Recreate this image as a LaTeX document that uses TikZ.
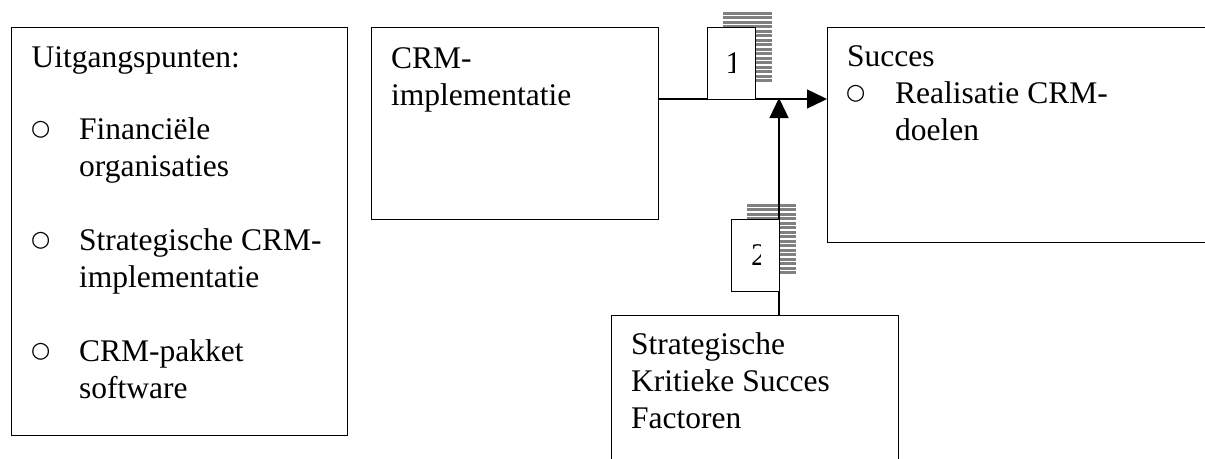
\documentclass[tikz,border=0pt]{standalone}
\usepackage{fontspec}
\setmainfont{Liberation Serif}
\newfontfamily\symfont{DejaVu Sans}
\usetikzlibrary{arrows.meta}

\tikzset{
  box/.style={draw, line width=1.4pt, rectangle, anchor=north west, inner sep=0pt},
  numbox/.style={box, fill=white, minimum width=48pt, minimum height=72pt},
  txt/.style={anchor=base west, inner sep=0pt, font=\fontsize{31.5}{37}\selectfont},
  bul/.style={anchor=base west, inner sep=0pt, yshift=4pt, font=\symfont\fontsize{22}{37}\selectfont},
  conn/.style={line width=1.4pt},
  arr/.style={conn, -{Triangle[length=20pt, width=19pt]}},
  stripe/.style={draw=black!50, line width=3pt}
}

% hatched drop shadow: 16 horizontal grey bars
\newcommand{\barshadow}[2]{%
  \foreach \i in {0,...,15}{
    \draw[stripe] (#1,{#2+1.5+4.47*\i}) -- ++(49,0);
  }%
}

\begin{document}
\begin{tikzpicture}[x=1pt, y=-1pt]
\useasboundingbox (0,0) rectangle (1205,458);
\clip (0,0) rectangle (1205,458);

% main boxes
\node[box, minimum width=336pt, minimum height=408pt] (base) at (11,27) {};
\node[box, minimum width=287pt, minimum height=192pt] (crm) at (371,27) {};
\node[box, minimum width=400pt, minimum height=215pt] (succ) at (827,27) {};
\node[box, minimum width=287pt, minimum height=170pt] (ksf) at (611,315) {};

% texts of the left box
\node[txt] (t1) at (31.5,67.5) {Uitgangspunten:};
\node[bul] (b1) at (31,139) {○};
\node[txt] (t2) at (79,139) {Financiële};
\node[txt] (t3) at (79,176) {organisaties};
\node[bul] (b2) at (31,250) {○};
\node[txt] (t4) at (79,250) {Strategische CRM-};
\node[txt] (t5) at (79,287) {implementatie};
\node[bul] (b3) at (31,361) {○};
\node[txt] (t6) at (79,361) {CRM-pakket};
\node[txt] (t7) at (79,398) {software};

% CRM box
\node[txt] (c1) at (391,68) {CRM-};
\node[txt] (c2) at (391,105) {implementatie};

% success box
\node[txt] (s1) at (847,66.5) {Succes};
\node[bul] (sb) at (846,103.5) {○};
\node[txt] (s2) at (895,103.5) {Realisatie CRM-};
\node[txt] (s3) at (895,140) {doelen};

% critical success factors box
\node[txt] (k1) at (631,354) {Strategische};
\node[txt] (k2) at (631,391) {Kritieke Succes};
\node[txt] (k3) at (631,428) {Factoren};

% shadows of the numbered boxes
\barshadow{723}{12}
\barshadow{747}{204}

% connectors
\coordinate (j) at (779,99);
\draw[arr] (crm.east |- j) -- (succ.west |- j);
\draw[arr] (ksf.north -| j) -- ([yshift=1pt]j);

% numbered boxes, their digits cut off by the right part of the frame
\node[numbox] (n1) at (707,27) {};
\node[numbox] (n2) at (731,219) {};
\begin{scope}
  \clip (n1.north west) rectangle ([xshift=27.5pt]n1.south west);
  \node[txt] (d1) at (725.5,73) {1};
\end{scope}
\begin{scope}
  \clip (n2.north west) rectangle ([xshift=29pt]n2.south west);
  \node[txt] (d2) at (751,265) {2};
\end{scope}
\end{tikzpicture}
\end{document}
